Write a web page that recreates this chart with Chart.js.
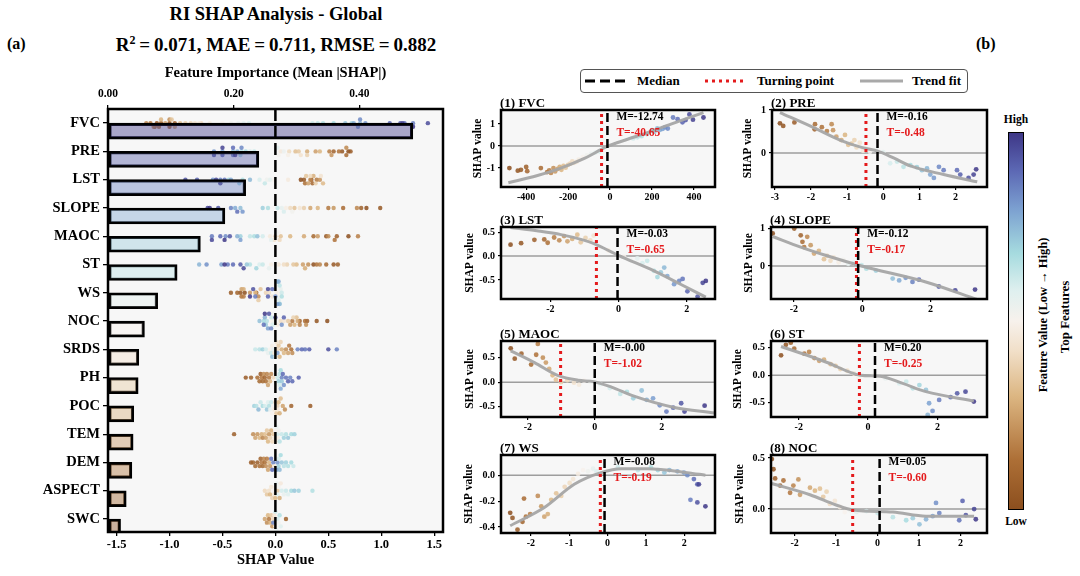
<!DOCTYPE html>
<html>
<head>
<meta charset="utf-8">
<title>RI SHAP Analysis - Global</title>
<script src="https://cdn.jsdelivr.net/npm/chart.js@4.4.1/dist/chart.umd.min.js"></script>
<style>
  html, body { margin: 0; padding: 0; background: #fff; }
  body { position: relative; width: 1080px; height: 576px; overflow: hidden;
         font-family: 'Liberation Serif', 'Times New Roman', 'DejaVu Serif', serif; font-weight: bold; color: #000; }
  .txt { position: absolute; white-space: nowrap; }
  canvas { position: absolute; }
  #legend { position: absolute; left: 580px; top: 69px; width: 388px; height: 24px; border: 1px solid #555;
            border-radius: 4px; box-sizing: border-box; background: #fff; }
  #legend span { position: absolute; top: 3px; font-size: 13px; line-height: 15px; }
  #legend svg { position: absolute; top: 5px; }
  #cbar { position: absolute; left: 1008px; top: 132px; width: 16px; height: 378px; border: 1.5px solid #000; box-sizing: border-box; }
  .rot { position: absolute; width: 240px; height: 16px; line-height: 16px; text-align: center; transform: rotate(-90deg); white-space: nowrap; }
</style>
</head>
<body>
<div class="txt" style="left:0;width:552px;text-align:center;top:4px;font-size:18.5px;line-height:20px;">RI SHAP Analysis - Global</div>
<div class="txt" style="left:0;width:552px;text-align:center;top:33px;font-size:19px;line-height:24px;">R<sup style="font-size:12px;vertical-align:7px;line-height:0;">2</sup>&thinsp;=&thinsp;0.071, MAE&thinsp;=&thinsp;0.711, RMSE&thinsp;=&thinsp;0.882</div>
<div class="txt" style="left:7px;top:35px;font-size:16px;line-height:18px;">(a)</div>
<div class="txt" style="left:976px;top:35px;font-size:16px;line-height:18px;">(b)</div>

<canvas id="cLeft" width="460" height="514" style="left:0;top:62px;"></canvas>

<div id="legend">
  <svg style="left:4px" width="42" height="12"><line x1="0" y1="6" x2="40" y2="6" stroke="#000" stroke-width="3" stroke-dasharray="10,5"/></svg>
  <span style="left:56px">Median</span>
  <svg style="left:124px" width="44" height="12"><line x1="0" y1="6" x2="42" y2="6" stroke="#e41a1c" stroke-width="3" stroke-dasharray="3,4"/></svg>
  <span style="left:176px">Turning point</span>
  <svg style="left:279px" width="44" height="12"><line x1="0" y1="6" x2="43" y2="6" stroke="#a9a9a9" stroke-width="3"/></svg>
  <span style="left:331px">Trend fit</span>
</div>

<div id="cbar"></div>
<div class="txt" style="left:996px;width:40px;text-align:center;top:112px;font-size:11.5px;line-height:14px;">High</div>
<div class="txt" style="left:996px;width:40px;text-align:center;top:514px;font-size:11.5px;line-height:14px;">Low</div>
<div class="rot" style="left:923px;top:307px;font-size:12.5px;">Feature Value (Low → High)</div>
<div class="rot" style="left:945px;top:309px;font-size:13px;">Top Features</div>

<script>
// ---------- data ----------
const featureNames = ['FVC', 'PRE', 'LST', 'SLOPE', 'MAOC', 'ST', 'WS', 'NOC', 'SRDS', 'PH', 'POC', 'TEM', 'DEM', 'ASPECT', 'SWC'];
const meanAbsShap = [0.485, 0.240, 0.219, 0.186, 0.147, 0.110, 0.079, 0.058, 0.049, 0.048, 0.041, 0.040, 0.038, 0.029, 0.020];

// dependence points: [feature value, SHAP value]
const fvcPts = [[-480,-1.0],[-440,-1.12],[-425,-1.08],[-400,-0.95],[-395,-1.14],[-330,-1.0],
  [-300,-1.18],[-290,-1.1],[-282,-1.22],[-270,-1.0],[-262,-1.15],[-250,-1.04],[-240,-0.95],[-232,-1.08],
  [-222,-0.9],[-212,-0.98],[-200,-0.85],[-190,-0.8],[-180,-0.7],[-172,-0.76],[-160,-0.72],[-150,-0.62],
  [-130,-0.5],[-110,-0.42],[-90,-0.35],[-70,-0.3],[-50,-0.25],[110,0.35],[130,0.4],
  [150,0.45],[175,0.55],[200,0.72],[212,0.66],[225,0.8],[238,0.74],[250,0.78],[262,0.85],[275,0.8],
  [300,1.3],[322,1.22],[345,1.08],[360,1.18],[378,1.44],[395,1.2],[445,1.3]];
const prePts = [[-2.86,0.69],[-2.77,0.63],[-2.46,0.71],
  [-1.89,0.67],[-1.9,0.55],[-1.7,0.6],[-1.56,0.51],[-1.43,0.67],[-1.39,0.53],[-1.3,0.38],[-1.16,0.3],
  [-1.06,0.42],[-0.97,0.19],[-0.88,0.22],[-0.8,0.3],[-0.74,0.13],[-0.65,0.24],[-0.56,0.05],[-0.5,0.12],
  [-0.37,0.03],[-0.2,0.08],[0.0,0.02],
  [0.19,-0.24],[0.38,-0.2],[0.56,-0.32],[0.75,-0.28],[0.93,-0.33],[1.07,-0.4],[1.21,-0.36],[1.3,-0.5],
  [1.4,-0.58],[1.54,-0.32],[1.67,-0.4],
  [2.04,-0.4],[2.13,-0.5],[2.36,-0.58],[2.5,-0.5],[2.57,-0.38]];
const lstPts = [[-3.17,0.24],[-2.86,0.27],
  [-2.47,0.34],[-2.18,0.35],[-2.08,0.28],[-1.89,0.39],[-1.74,0.33],[-1.6,0.42],[-1.5,0.31],[-1.36,0.36],
  [-1.21,0.45],[-1.11,0.29],[-0.97,0.38],[-0.83,0.33],[-0.73,0.43],
  [-0.3,0.12],[0.16,-0.01],[0.35,-0.08],[0.55,-0.05],[0.7,-0.15],[0.84,-0.1],
  [1.04,-0.31],[1.14,-0.44],[1.24,-0.34],[1.34,-0.24],[1.43,-0.42],
  [1.63,-0.59],[1.78,-0.52],[1.88,-0.48],[2.02,-0.74],[2.32,-0.85],[2.47,-0.56],[2.56,-0.52]];
const slopePts = [[-2.62,0.86],[-1.99,0.99],[-1.8,0.81],[-1.75,0.64],[-1.61,0.77],[-1.51,0.55],[-1.7,0.5],
  [-1.41,0.33],[-1.27,0.4],[-1.12,0.18],[-1.03,0.27],[-0.93,0.14],[-0.84,0.23],[-0.69,0.1],[-0.55,0.16],
  [-0.41,0.06],[-0.26,0.08],
  [-0.02,0.02],[0.12,-0.07],[0.4,-0.12],
  [0.89,-0.33],[1.08,-0.38],[1.27,-0.31],[1.47,-0.42],[1.66,-0.36],
  [2.24,-0.54],[2.72,-0.64],[3.3,-0.62]];
const maocPts = [[-2.51,0.69],[-2.39,0.48],[-2.19,0.58],[-1.9,0.36],[-1.75,0.56],[-1.7,0.78],[-1.55,0.5],
  [-1.46,0.4],[-1.36,0.27],
  [-1.26,0.14],[-1.16,0.05],[-1.01,0.0],[-0.82,0.04],[-0.62,-0.01],[-0.47,-0.05],[-0.32,0.03],[-0.13,0.01],
  [0.17,-0.04],[0.45,-0.12],
  [0.76,-0.24],[0.96,-0.2],[1.15,-0.33],[1.4,-0.17],[1.55,-0.36],[1.74,-0.33],[1.94,-0.47],[2.14,-0.6],
  [2.34,-0.52],[2.58,-0.43],[2.68,-0.6],[3.28,-0.48]];
const stPts = [[-2.51,0.36],[-2.37,0.55],[-2.23,0.59],[-2.13,0.48],
  [-1.84,0.39],[-1.7,0.42],[-1.55,0.31],[-1.41,0.26],[-1.27,0.28],[-1.08,0.2],[-0.94,0.17],[-0.8,0.11],
  [-0.6,0.08],[-0.41,0.03],[-0.27,-0.04],
  [0.16,0.0],[0.5,-0.06],
  [0.9,-0.15],[1.1,-0.12],[1.29,-0.24],[1.48,-0.18],[1.67,-0.27],[1.76,-0.51],[1.86,-0.65],[1.72,-0.72],
  [2.05,-0.45],[2.38,-0.4],[2.57,-0.33],[2.81,-0.3],[3.05,-0.48]];
const wsPts = [[-2.54,-0.29],[-2.48,-0.33],[-2.35,-0.42],[-2.22,-0.36],[-2.13,-0.32],[-2.02,-0.3],
  [-2.18,-0.18],[-1.82,-0.16],
  [-1.73,-0.24],[-1.65,-0.32],[-1.56,-0.3],[-1.47,-0.19],[-1.34,-0.14],[-1.21,-0.16],[-1.12,-0.09],
  [-0.99,-0.06],[-0.9,-0.03],[-0.77,0.01],[-0.64,0.04],[-0.51,0.03],[-0.38,0.05],[-0.29,0.03],
  [0.27,0.06],[0.79,0.04],
  [1.13,0.06],[1.31,0.04],[1.48,0.02],[1.61,0.04],
  [1.82,0.03],[1.99,0.02],[2.08,0.0],[2.25,-0.03],[2.34,-0.07],[2.38,-0.07],[2.16,-0.19],[2.34,-0.21],[2.55,-0.24]];
const nocPts = [[-2.55,0.49],[-2.51,0.39],[-2.47,0.3],[-2.35,0.23],[-2.27,0.28],[-2.11,0.16],[-2.03,0.23],
  [-1.91,0.29],[-1.87,0.14],
  [-1.63,0.21],[-1.51,0.18],[-1.39,0.2],[-1.31,0.12],[-1.23,0.17],[-1.15,0.05],[-1.03,0.08],[-0.91,0.02],
  [-0.79,-0.03],[-0.67,-0.01],
  [-0.51,-0.03],[-0.27,-0.02],[0.0,-0.04],
  [0.37,-0.08],[0.69,-0.11],[0.85,-0.09],[1.01,-0.15],[1.17,-0.1],[1.33,-0.07],[1.49,-0.04],[1.41,0.06],
  [1.97,-0.11],[2.05,0.08],[2.13,-0.06],[2.33,0.0],[2.37,-0.1]];

// trend fits
const fvcTrend = [[-485,-1.67],[-350,-1.35],[-238,-1.01],[-120,-0.55],[-16,-0.03],[80,0.3],[175,0.6],[290,1.0],[445,1.52]];
const preTrend = [[-2.86,0.94],[-2.0,0.62],[-1.2,0.3],[-0.6,0.13],[-0.17,0.05],[0.3,-0.12],[0.75,-0.3],[1.67,-0.5],[2.6,-0.67]];
const lstTrend = [[-3.17,0.6],[-2.4,0.53],[-1.69,0.45],[-1.0,0.33],[-0.72,0.26],[0.01,0.01],[1.04,-0.31],[1.82,-0.59],[2.56,-0.86]];
const slopeTrend = [[-2.62,0.78],[-1.8,0.5],[-1.03,0.27],[-0.02,0.0],[1.86,-0.42],[3.38,-0.89]];
const maocTrend = [[-2.51,0.64],[-1.8,0.4],[-1.11,0.14],[-0.5,0.04],[-0.03,0.01],[0.5,-0.1],[1.15,-0.28],[2.34,-0.51],[3.58,-0.63]];
const stTrend = [[-2.51,0.52],[-1.8,0.37],[-1.18,0.23],[-0.22,0.0],[0.35,-0.02],[1.0,-0.15],[1.67,-0.3],[3.05,-0.47]];
const wsTrend = [[-2.54,-0.39],[-1.65,-0.25],[-0.87,-0.07],[-0.17,0.02],[0.36,0.05],[1.05,0.05],[2.08,0.02],[2.55,0.0]];
const nocTrend = [[-2.55,0.25],[-1.63,0.14],[-1.0,0.04],[-0.59,-0.01],[0.37,-0.03],[1.17,-0.07],[2.33,-0.07]];

const medians = [-12.74, -0.16, -0.03, -0.12, -0.001, 0.20, -0.08, 0.05];
const turnings = [-40.65, -0.48, -0.65, -0.17, -1.02, -0.25, -0.19, -0.60];

// beeswarm points for the weaker features: [SHAP value, feature value 0-1]
const srdsPts = [[-0.19,0.62],[-0.15,0.65],[-0.12,0.7],[-0.09,0.6],[-0.07,0.55],[-0.05,0.5],[-0.04,0.62],[-0.03,0.48],
  [-0.03,0.75],[-0.02,0.55],[-0.01,0.45],[0.0,0.5],[0.0,0.58],[0.01,0.42],[0.02,0.4],[0.02,0.8],[0.03,0.35],
  [0.04,0.3],[0.05,0.38],[0.06,0.28],[0.08,0.3],[0.1,0.2],[0.12,0.25],[0.13,0.15],[0.15,0.12],[0.16,0.2],
  [0.21,0.85],[0.25,0.9],[0.28,0.88],[0.32,0.92],[0.5,0.95],[0.58,0.85]];
const phPts = [[-0.28,0.05],[-0.23,0.08],[-0.17,0.12],[-0.15,0.1],[-0.14,0.05],[-0.13,0.15],[-0.12,0.1],[-0.11,0.2],
  [-0.1,0.08],[-0.09,0.12],[-0.08,0.18],[-0.07,0.25],[-0.06,0.15],[-0.05,0.3],[-0.04,0.2],[-0.02,0.4],[0.0,0.5],
  [0.02,0.62],[0.03,0.7],[0.04,0.65],[0.04,0.6],[0.05,0.68],[0.05,0.78],[0.06,0.85],[0.06,0.72],[0.07,0.9],
  [0.08,0.82],[0.1,0.88],[0.12,0.92],[0.14,0.85],[0.16,0.9],[0.22,0.92]];
const pocPts = [[-0.2,0.7],[-0.18,0.65],[-0.16,0.75],[-0.14,0.62],[-0.12,0.68],[-0.1,0.6],[-0.08,0.72],[-0.07,0.58],
  [-0.06,0.66],[-0.05,0.55],[-0.04,0.62],[-0.03,0.5],[-0.02,0.52],[-0.01,0.45],[0.0,0.4],[0.01,0.35],[0.02,0.38],
  [0.02,0.45],[0.03,0.3],[0.04,0.28],[0.05,0.32],[0.07,0.25],[0.09,0.2],[0.15,0.08],[0.33,0.05]];
const temPts = [[-0.39,0.06],[-0.21,0.2],[-0.19,0.25],[-0.17,0.22],[-0.15,0.3],[-0.13,0.28],[-0.12,0.18],[-0.1,0.32],
  [-0.09,0.25],[-0.08,0.35],[-0.07,0.3],[-0.06,0.22],[-0.05,0.38],[-0.04,0.28],[-0.03,0.4],[-0.02,0.35],
  [-0.01,0.45],[0.0,0.5],[0.0,0.42],[0.01,0.55],[0.02,0.6],[0.02,0.48],[0.03,0.52],[0.04,0.65],[0.06,0.62],
  [0.08,0.7],[0.1,0.66],[0.12,0.72],[0.15,0.68],[0.18,0.7]];
const demPts = [[-0.23,0.05],[-0.21,0.08],[-0.19,0.1],[-0.17,0.06],[-0.15,0.12],[-0.14,0.08],[-0.13,0.15],[-0.12,0.1],
  [-0.11,0.18],[-0.1,0.12],[-0.09,0.2],[-0.08,0.15],[-0.07,0.25],[-0.06,0.3],[-0.05,0.22],[-0.04,0.88],[-0.03,0.9],
  [-0.02,0.85],[-0.01,0.45],[0.0,0.5],[0.01,0.8],[0.02,0.82],[0.03,0.7],[0.03,0.6],[0.04,0.75],[0.05,0.68],
  [0.06,0.72],[0.08,0.65],[0.1,0.7],[0.12,0.66],[0.15,0.68],[0.17,0.62]];
const aspectPts = [[-0.1,0.4],[-0.08,0.35],[-0.06,0.42],[-0.05,0.3],[-0.04,0.45],[-0.03,0.38],[-0.02,0.5],[-0.01,0.44],
  [0.0,0.48],[0.0,0.3],[0.01,0.55],[0.02,0.35],[0.02,0.58],[0.03,0.52],[0.04,0.28],[0.05,0.46],[0.06,0.6],
  [0.08,0.55],[0.1,0.62],[0.12,0.58],[0.15,0.68],[0.18,0.72],[0.22,0.7],[0.35,0.66]];
const swcPts = [[-0.1,0.25],[-0.08,0.2],[-0.07,0.3],[-0.06,0.15],[-0.05,0.28],[-0.04,0.35],[-0.03,0.22],[-0.02,0.4],
  [-0.02,0.85],[-0.01,0.45],[0.0,0.5],[0.0,0.62],[0.01,0.55],[0.02,0.6],[0.03,0.52],[0.04,0.66],[0.05,0.58],[0.1,0.08]];

const topPts = [fvcPts, prePts, lstPts, slopePts, maocPts, stPts, wsPts, nocPts];
const topTrends = [fvcTrend, preTrend, lstTrend, slopeTrend, maocTrend, stTrend, wsTrend, nocTrend];
const minorPts = [srdsPts, phPts, pocPts, temPts, demPts, aspectPts, swcPts];

// ---------- colours ----------
const cmapStops = [
  [0.00, [140, 79, 30]], [0.13, [173, 111, 54]], [0.30, [220, 182, 130]], [0.42, [241, 223, 200]],
  [0.50, [247, 241, 236]], [0.58, [223, 240, 239]], [0.68, [166, 219, 223]], [0.80, [123, 159, 208]],
  [0.90, [92, 104, 180]], [1.00, [62, 55, 135]]
];
function cmap(t, a) {
  t = Math.max(0, Math.min(1, t));
  let i = 1;
  while (i < cmapStops.length - 1 && t > cmapStops[i][0]) i++;
  const [t0, c0] = cmapStops[i - 1], [t1, c1] = cmapStops[i];
  const f = (t - t0) / (t1 - t0);
  const c = c0.map((v, j) => Math.round(v + (c1[j] - v) * f));
  return `rgba(${c[0]},${c[1]},${c[2]},${a})`;
}
document.getElementById('cbar').style.background =
  'linear-gradient(to top,' + cmapStops.map(s => `rgb(${s[1].join(',')}) ${s[0] * 100}%`).join(',') + ')';

// colour by rank of the feature value
function rankT(xs) {
  const t = new Array(xs.length);
  xs.map((v, i) => [v, i]).sort((a, b) => a[0] - b[0]).forEach(([v, i], r) => { t[i] = r / (xs.length - 1); });
  return t;
}

// multiples of step inside [min, max]
function stepTicks(min, max, step) {
  const out = [];
  for (let k = Math.ceil(min / step - 1e-9); k * step <= max + 1e-9; k++) {
    out.push({value: Math.round(k * step * 1e6) / 1e6});
  }
  return out;
}

Chart.defaults.font.family = "'Liberation Serif', 'Times New Roman', serif";
Chart.defaults.font.weight = 'bold';
Chart.defaults.color = '#000';

const SERIF = "'Liberation Serif', 'Times New Roman', serif";

// background, frame and the little texts of each panel
const frame = {
  id: 'frame',
  beforeDraw(chart) {
    const a = chart.chartArea, ctx = chart.ctx;
    ctx.save();
    ctx.fillStyle = '#f7f7f7';
    ctx.fillRect(a.left, a.top, a.width, a.height);
    ctx.restore();
  },
  afterDraw(chart, args, opts) {
    const a = chart.chartArea, ctx = chart.ctx;
    ctx.save();
    ctx.lineWidth = 2.5;
    ctx.strokeStyle = '#000';
    ctx.strokeRect(a.left, a.top, a.width, a.height);
    if (opts.title) {
      ctx.fillStyle = '#000';
      ctx.font = 'bold 13px ' + SERIF;
      ctx.textBaseline = 'alphabetic';
      ctx.fillText(opts.title, a.left - 1, a.top - 3);
    }
    if (opts.median != null) {
      const px = chart.scales.x.getPixelForValue(opts.median) + 9;
      ctx.font = 'bold 11.5px ' + SERIF;
      ctx.textBaseline = 'middle';
      ctx.fillStyle = '#000';
      ctx.fillText('M=' + opts.median.toFixed(2), px, a.top + 7);
      ctx.fillStyle = '#e41a1c';
      ctx.fillText('T=' + opts.turn.toFixed(2), px, a.top + 23);
    }
    ctx.restore();
  }
};

// ---------- (a) importance bars + beeswarm ----------
const swarmData = [], swarmColors = [];
function addRow(shaps, ts, row) {
  // stack points that share a SHAP bin outwards from the row centre
  const binW = 0.04, step = 0.13, cap = 0.4;
  const seen = {};
  shaps.forEach((v, i) => {
    const b = Math.round(v / binW);
    const n = seen[b] = (seen[b] || 0) + 1;
    const off = Math.min(cap, Math.ceil((n - 1) / 2) * step) * (n % 2 ? -1 : 1);
    swarmData.push({x: v, y: row + off});
    swarmColors.push(cmap(ts[i], 0.85));
  });
}
topPts.forEach((pts, i) => addRow(pts.map(p => p[1]), rankT(pts.map(p => p[0])), i));
minorPts.forEach((pts, j) => addRow(pts.map(p => p[0]), pts.map(p => p[1]), topPts.length + j));

const yTop = -0.5, yBottom = 14.46;
const tickGrid = {drawOnChartArea: false, drawTicks: true, color: '#000', lineWidth: 1.3, offset: false};

new Chart(document.getElementById('cLeft'), {
  type: 'bar',
  data: {
    datasets: [
      {
        type: 'scatter', data: swarmData, xAxisID: 'xShap', yAxisID: 'y',
        pointRadius: 2.2, pointBorderWidth: 0, pointBackgroundColor: swarmColors, order: 3
      },
      {
        type: 'bar', indexAxis: 'y', xAxisID: 'xImp', yAxisID: 'y',
        data: meanAbsShap.map((v, i) => ({x: v, y: i})),
        backgroundColor: featureNames.map((f, i) => cmap(1 - i / (featureNames.length - 1), 0.42)),
        borderColor: '#000', borderWidth: 2.5, borderSkipped: false, barThickness: 16, order: 2
      },
      {
        type: 'line', data: [{x: 0, y: yTop}, {x: 0, y: yBottom}], xAxisID: 'xShap', yAxisID: 'y',
        borderColor: '#000', borderWidth: 2.5, borderDash: [12, 5], pointRadius: 0, order: 1
      }
    ]
  },
  options: {
    responsive: false, animation: false, events: [],
    layout: {padding: {top: 0, left: 0, right: 17, bottom: 0}},
    plugins: {legend: {display: false}, tooltip: {enabled: false}, frame: {}},
    scales: {
      xImp: {
        type: 'linear', axis: 'x', position: 'top', min: 0, max: 0.533, offset: false,
        afterFit: s => { s.height = 47; },
        afterBuildTicks: s => { s.ticks = stepTicks(s.min, s.max, 0.2); },
        title: {display: true, text: 'Feature Importance (Mean |SHAP|)', font: {size: 14.5, weight: 'bold'}, padding: {top: 2.3, bottom: 0}},
        ticks: {stepSize: 0.2, includeBounds: false, padding: 4, maxRotation: 0, font: {size: 11.5, weight: 'bold'}, callback: v => v.toFixed(2)},
        grid: Object.assign({tickLength: 4}, tickGrid), border: {display: false}
      },
      xShap: {
        type: 'linear', axis: 'x', position: 'bottom', min: -1.581, max: 1.583, offset: false,
        afterFit: s => { s.height = 44; },
        afterBuildTicks: s => { s.ticks = stepTicks(s.min, s.max, 0.5); },
        title: {display: true, text: 'SHAP Value', font: {size: 14.5, weight: 'bold'}, padding: {top: 0, bottom: 7.3}},
        ticks: {stepSize: 0.5, includeBounds: false, padding: 1.5, maxRotation: 0, font: {size: 12.5, weight: 'bold'}, callback: v => v.toFixed(1)},
        grid: Object.assign({tickLength: 4}, tickGrid), border: {display: false}
      },
      y: {
        type: 'linear', axis: 'y', position: 'left', min: yTop, max: yBottom, reverse: true, offset: false,
        afterFit: s => { s.width = 108; },
        afterBuildTicks: s => { s.ticks = stepTicks(s.min, s.max, 1); },
        ticks: {stepSize: 1, includeBounds: false, autoSkip: false, padding: 3, font: {size: 14.5, weight: 'bold'},
                callback: v => featureNames[v] || ''},
        grid: Object.assign({tickLength: 5}, tickGrid), border: {display: false}
      }
    }
  },
  plugins: [frame]
});

// ---------- (b) dependence panels ----------
const panels = [
  {L: 501, T: 110, R: 715, B: 187, yw: 30, x: [-520, 500, 200], y: [-1.86, 1.64, 1], yd: 0},
  {L: 772, T: 110, R: 987, B: 187, yw: 31, x: [-3.08, 2.87, 1], y: [-0.79, 1.0, 1], yd: 0},
  {L: 501, T: 227, R: 715, B: 299, yw: 38, x: [-3.45, 2.83, 2], y: [-0.9, 0.61, 0.5], yd: 1},
  {L: 771, T: 227, R: 987, B: 299, yw: 29, x: [-2.67, 3.65, 2], y: [-0.87, 1.03, 1], yd: 0},
  {L: 501, T: 341, R: 715, B: 417, yw: 38, x: [-2.8, 3.59, 2], y: [-0.71, 0.84, 0.5], yd: 1},
  {L: 771, T: 341, R: 987, B: 417, yw: 40, x: [-2.8, 3.43, 2], y: [-0.76, 0.62, 0.5], yd: 1},
  {L: 501, T: 455, R: 715, B: 533, yw: 39, x: [-2.78, 2.8, 1], y: [-0.446, 0.156, 0.2], yd: 1},
  {L: 771, T: 455, R: 987, B: 533, yw: 38, x: [-2.57, 2.64, 1], y: [-0.235, 0.53, 0.5], yd: 1}
];

panels.forEach((p, k) => {
  const pts = topPts[k];
  const ts = rankT(pts.map(q => q[0]));
  const cv = document.createElement('canvas');
  cv.width = p.R - p.L + p.yw + 6;
  cv.height = p.B - p.T + 42;
  cv.style.left = (p.L - p.yw) + 'px';
  cv.style.top = (p.T - 20) + 'px';
  document.body.appendChild(cv);

  const tick = {grid: {drawOnChartArea: false, drawTicks: true, tickLength: 3, color: '#000', lineWidth: 1.2}, border: {display: false}};
  new Chart(cv, {
    type: 'scatter',
    data: {
      datasets: [
        {data: [{x: p.x[0], y: 0}, {x: p.x[1], y: 0}], showLine: true, borderColor: '#9e9e9e', borderWidth: 1.5, pointRadius: 0, order: 5},
        {data: pts.map(q => ({x: q[0], y: q[1]})), pointRadius: 2.4, pointBorderWidth: 0,
         pointBackgroundColor: ts.map(t => cmap(t, 0.85)), order: 4},
        {data: topTrends[k].map(q => ({x: q[0], y: q[1]})), showLine: true, cubicInterpolationMode: 'monotone',
         borderColor: 'rgba(165,165,165,0.95)', borderWidth: 3, pointRadius: 0, order: 3},
        {data: [{x: turnings[k], y: p.y[0]}, {x: turnings[k], y: p.y[1]}], showLine: true,
         borderColor: '#e41a1c', borderWidth: 3, borderDash: [3, 4], pointRadius: 0, order: 2},
        {data: [{x: medians[k], y: p.y[0]}, {x: medians[k], y: p.y[1]}], showLine: true,
         borderColor: '#000', borderWidth: 2.5, borderDash: [9, 4], pointRadius: 0, order: 1}
      ]
    },
    options: {
      responsive: false, animation: false, events: [],
      layout: {padding: {top: 20, right: 6, left: 0, bottom: 0}},
      plugins: {
        legend: {display: false}, tooltip: {enabled: false},
        frame: {title: `(${k + 1}) ${featureNames[k]}`, median: medians[k], turn: turnings[k]}
      },
      scales: {
        x: Object.assign({
          type: 'linear', min: p.x[0], max: p.x[1], offset: false,
          afterFit: s => { s.height = 22; },
          afterBuildTicks: s => { s.ticks = stepTicks(s.min, s.max, p.x[2]); },
          ticks: {stepSize: p.x[2], includeBounds: false, padding: 1, maxRotation: 0, font: {size: 10, weight: 'bold'},
                  callback: v => v.toFixed(0)}
        }, tick),
        y: Object.assign({
          type: 'linear', min: p.y[0], max: p.y[1], offset: false,
          afterFit: s => { s.width = p.yw; },
          afterBuildTicks: s => { s.ticks = stepTicks(s.min, s.max, p.y[2]); },
          title: {display: true, text: 'SHAP value', font: {size: 11.5, weight: 'bold'}, padding: 0},
          ticks: {stepSize: p.y[2], includeBounds: false, padding: 3, font: {size: 10, weight: 'bold'},
                  callback: v => v.toFixed(p.yd)}
        }, tick)
      }
    },
    plugins: [frame]
  });
});
</script>
</body>
</html>
